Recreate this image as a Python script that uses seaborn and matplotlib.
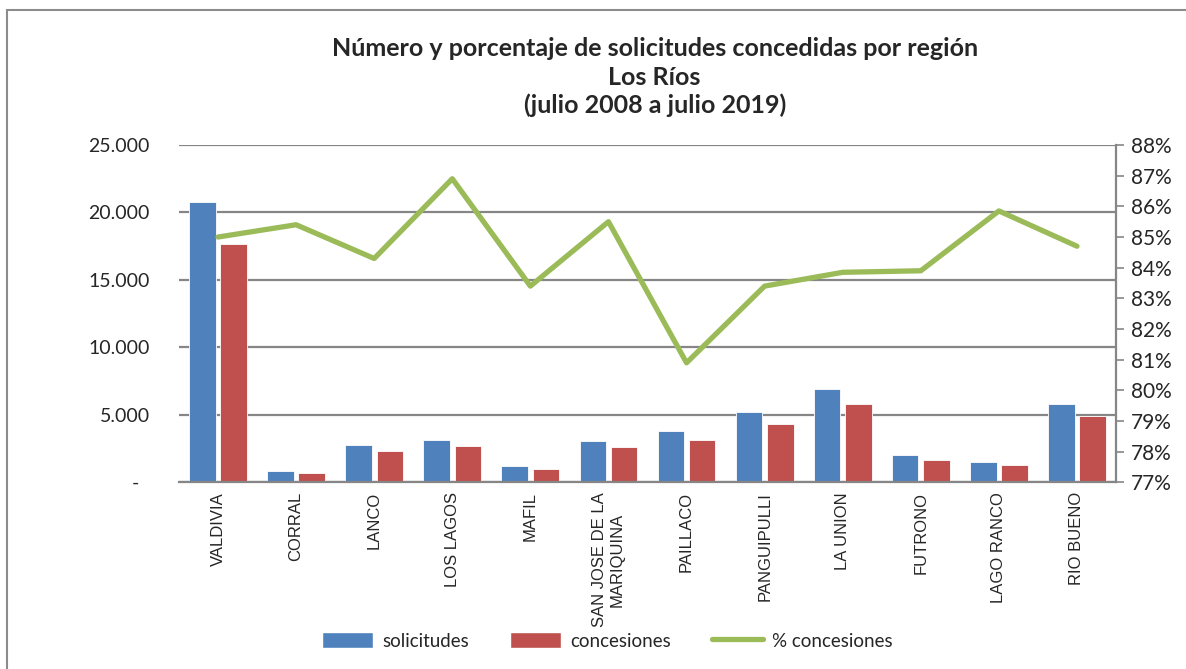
import numpy as np
import pandas as pd
import matplotlib
matplotlib.use("Agg")
import matplotlib.pyplot as plt
from matplotlib.patches import Patch, Rectangle
from matplotlib.lines import Line2D
from matplotlib.ticker import FuncFormatter, MultipleLocator
import seaborn as sns

# data
comunas = ["VALDIVIA", "CORRAL", "LANCO", "LOS LAGOS", "MAFIL",
           "SAN JOSE DE LA\nMARIQUINA", "PAILLACO", "PANGUIPULLI",
           "LA UNION", "FUTRONO", "LAGO RANCO", "RIO BUENO"]
solicitudes = [20800, 850, 2810, 3130, 1230, 3060, 3850, 5190, 6960, 2000, 1530, 5800]
concesiones = [17650, 725, 2340, 2710, 990, 2610, 3130, 4300, 5850, 1700, 1330, 4960]
pct_concesiones = [0.850, 0.854, 0.843, 0.869, 0.834, 0.855, 0.809, 0.834, 0.8385, 0.839, 0.8585, 0.847]

titulo = "Número y porcentaje de solicitudes concedidas por región\nLos Ríos\n(julio 2008 a julio 2019)"

blue = "#4F81BD"
red = "#C0504D"
green = "#9BBB59"
grid_gray = "#868686"

sns.set_style("white")
plt.rcParams["font.family"] = ["Lato", "DejaVu Sans"]

df = pd.DataFrame({
    "comuna": comunas * 2,
    "valor": solicitudes + concesiones,
    "serie": ["solicitudes"] * len(comunas) + ["concesiones"] * len(comunas),
})

fig = plt.figure(figsize=(11.86, 6.69), dpi=100)
ax = fig.add_axes([0.1509, 0.2788, 0.7901, 0.5045])

sns.barplot(data=df, x="comuna", y="valor", hue="serie",
            palette={"solicitudes": blue, "concesiones": red},
            width=0.8, gap=0.15, edgecolor="white", linewidth=0.6,
            saturation=1, ax=ax, legend=False)

ax.set_ylim(0, 25000)
ax.yaxis.set_major_locator(MultipleLocator(5000))
ax.yaxis.set_major_formatter(FuncFormatter(
    lambda v, p: "-  " if v == 0 else f"{int(v):,}".replace(",", ".")))
ax.set_axisbelow(True)
ax.grid(axis="y", color=grid_gray, linewidth=1.6)
ax.set_xlabel("")
ax.set_ylabel("")
ax.set_xlim(-0.5, len(comunas) - 0.5)
for s in ["top", "left", "right"]:
    ax.spines[s].set_visible(False)
ax.spines["bottom"].set_color(grid_gray)
ax.spines["bottom"].set_linewidth(1.6)
ax.tick_params(axis="y", length=0, pad=21, labelsize=14)
ax.tick_params(axis="x", length=0, pad=7)
ax.set_xticks(range(len(comunas)))
ax.set_xticklabels(comunas, rotation=90, va="top", ha="center", ma="center",
                   fontsize=12, family=["Liberation Sans", "DejaVu Sans"])

ax2 = ax.twinx()
sns.lineplot(x=np.arange(len(comunas)), y=pct_concesiones, color=green,
             linewidth=3.8, ax=ax2, legend=False)
ax2.set_ylim(0.77, 0.88)
ax2.yaxis.set_major_locator(MultipleLocator(0.01))
ax2.yaxis.set_major_formatter(FuncFormatter(lambda v, p: f"{v * 100:.0f}%"))
ax2.set_xlim(-0.5, len(comunas) - 0.5)
for s in ["top", "left", "bottom"]:
    ax2.spines[s].set_visible(False)
ax2.spines["right"].set_color(grid_gray)
ax2.spines["right"].set_linewidth(1.6)
ax2.tick_params(axis="y", direction="out", length=6, width=1.2, color=grid_gray,
                pad=5, labelsize=15, right=True)

fig.text(0.552, 0.944, titulo, ha="center", va="top", fontsize=18,
         fontweight="bold", linespacing=1.27)

handles = [Patch(facecolor=blue), Patch(facecolor=red),
           Line2D([0], [0], color=green, linewidth=3.8)]
fig.legend(handles, ["solicitudes", "concesiones", "% concesiones"],
           loc="center", bbox_to_anchor=(0.512, 0.042), ncol=3, frameon=False,
           fontsize=13.5, handlelength=2.7, handleheight=0.9,
           columnspacing=2.2, handletextpad=0.5)

fig.add_artist(Rectangle((7 / 1186, -0.1), 1.2, 1.1 - 10 / 669,
                         transform=fig.transFigure, fill=False,
                         edgecolor="#8C8C8C", linewidth=1.5))

fig.savefig("out.png", dpi=100)
